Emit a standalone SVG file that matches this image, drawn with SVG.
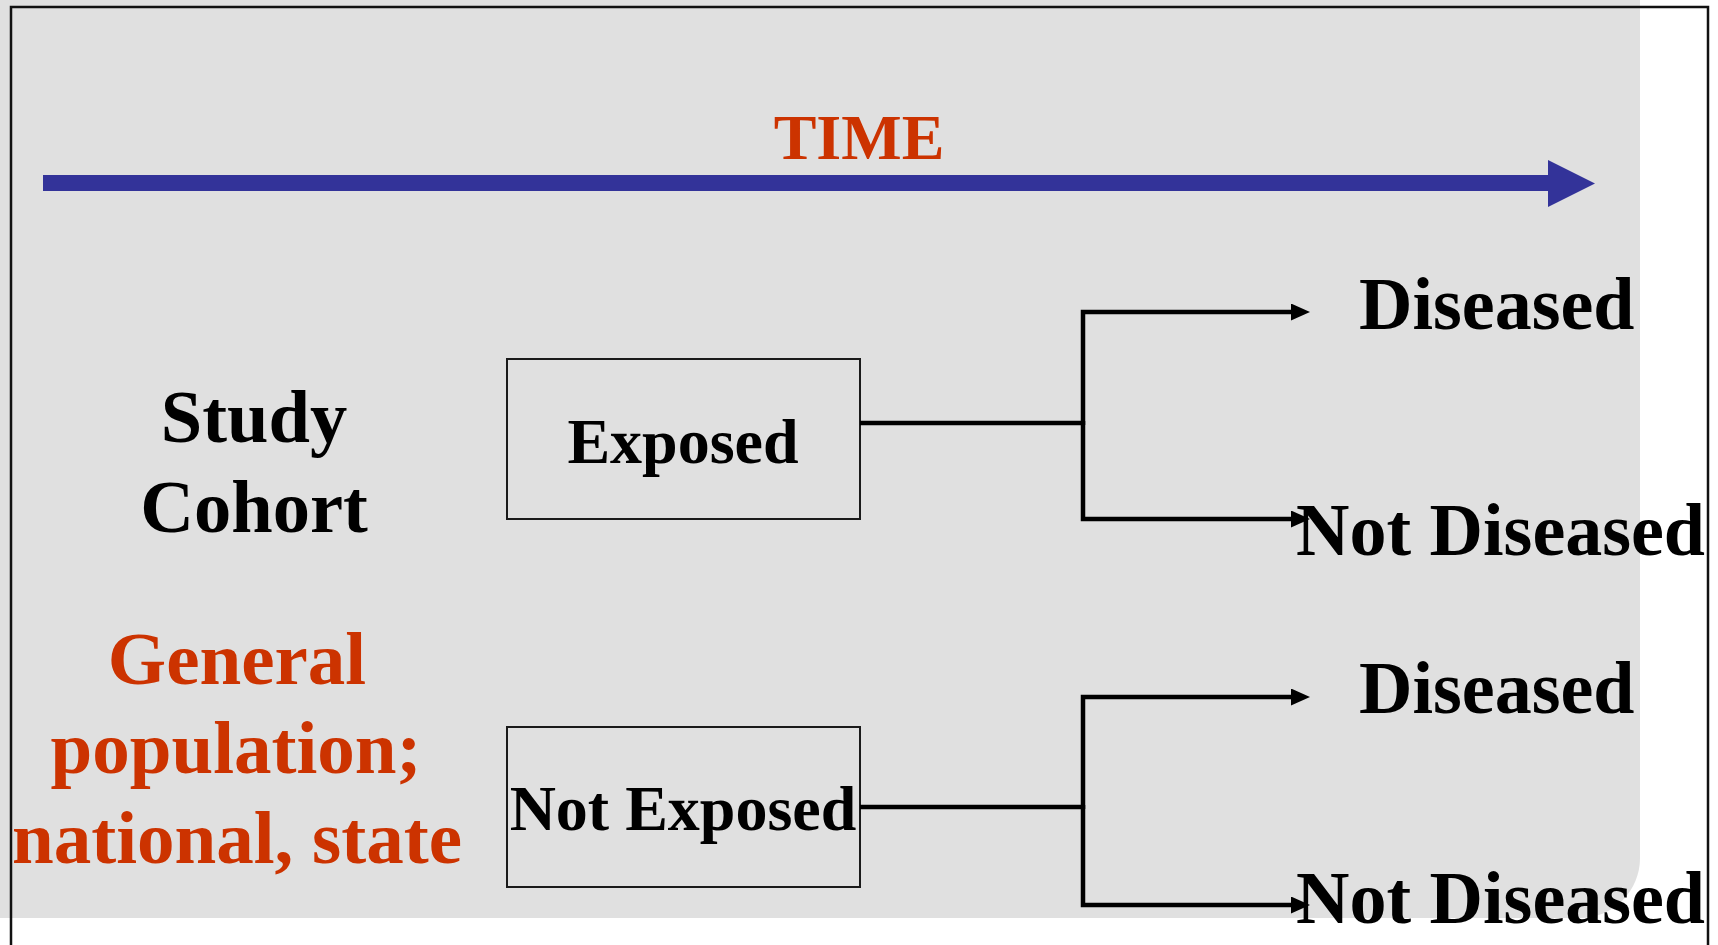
<svg xmlns="http://www.w3.org/2000/svg" width="1718" height="945" viewBox="0 0 1718 945">
  <style>
    .t { font-family: "Liberation Serif", "Times New Roman", serif; font-weight: bold; }
    .blk { fill: #000; }
    .red { fill: #CC3300; }
    .box { fill: none; stroke: #1a1a1a; stroke-width: 2; }
    .conn { fill: none; stroke: #000; stroke-width: 4.5; }
  </style>
  <defs>
    <marker id="ah" viewBox="0 0 19 17" refX="0" refY="8.5" markerWidth="19" markerHeight="17" markerUnits="userSpaceOnUse" orient="auto">
      <path d="M0,0 L19,8.5 L0,17 z" fill="#000"/>
    </marker>
  </defs>

  <rect x="0" y="0" width="1718" height="945" fill="#FFFFFF"/>
  <path d="M0,0 H1640 V858 A60,60 0 0 1 1580,918 H0 Z" fill="#E0E0E0"/>
  <rect x="11" y="7" width="1697" height="960" fill="none" stroke="#111" stroke-width="2.5"/>

  <g id="time-axis">
    <rect x="43" y="175" width="1506" height="16" fill="#333399"/>
    <polygon points="1548,160 1595,183.5 1548,207" fill="#333399"/>
    <text class="t red" x="859" y="159" font-size="64" text-anchor="middle">TIME</text>
  </g>

  <g id="study-cohort">
    <text class="t blk" x="254" y="442" font-size="74.5" text-anchor="middle">Study</text>
    <text class="t blk" x="254" y="532" font-size="74.5" text-anchor="middle">Cohort</text>
  </g>

  <g id="general-population">
    <text class="t red" x="237" y="684" font-size="75" text-anchor="middle">General</text>
    <text class="t red" x="236" y="773" font-size="75" text-anchor="middle">population;</text>
    <text class="t red" x="237" y="863" font-size="75" text-anchor="middle">national, state</text>
  </g>

  <g id="exposed">
    <rect class="box" x="507" y="359" width="353" height="160"/>
    <text class="t blk" x="683" y="463" font-size="64" text-anchor="middle">Exposed</text>
  </g>

  <g id="not-exposed">
    <rect class="box" x="507" y="727" width="353" height="160"/>
    <text class="t blk" x="683" y="830" font-size="64" text-anchor="middle">Not Exposed</text>
  </g>

  <g id="diseased-1">
    <text class="t blk" x="1359" y="329" font-size="74">Diseased</text>
  </g>
  <g id="not-diseased-1">
    <text class="t blk" x="1296" y="555" font-size="74">Not Diseased</text>
  </g>
  <g id="diseased-2">
    <text class="t blk" x="1359" y="713" font-size="74">Diseased</text>
  </g>
  <g id="not-diseased-2">
    <text class="t blk" x="1296" y="923" font-size="74">Not Diseased</text>
  </g>

  <g id="connectors">
    <path class="conn" d="M860,423 H1083"/>
    <path class="conn" d="M1083,425 V312 H1291" marker-end="url(#ah)"/>
    <path class="conn" d="M1083,421 V519 H1291" marker-end="url(#ah)"/>
    <path class="conn" d="M860,807 H1083"/>
    <path class="conn" d="M1083,809 V697 H1291" marker-end="url(#ah)"/>
    <path class="conn" d="M1083,805 V905 H1291" marker-end="url(#ah)"/>
  </g>
</svg>
